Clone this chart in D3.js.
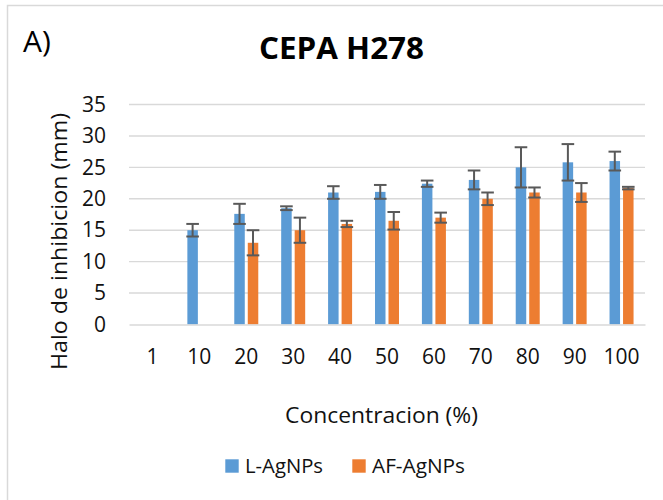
<!DOCTYPE html>
<html><head><meta charset="utf-8">
<script src="https://cdn.jsdelivr.net/npm/d3@7"></script>
<style>body{margin:0;background:#fff}svg{display:block}text{font-family:"Open Sans","Noto Sans",sans-serif}</style>
</head><body><svg id="c" width="663" height="500"></svg>
<script>
const categories = ["1","10","20","30","40","50","60","70","80","90","100"];
const lAgNPs   = [0, 15, 17.6, 18.5, 21, 21.1, 22.4, 23, 25, 25.8, 26];
const lErr     = [0, 1, 1.6, 0.3, 1, 1.1, 0.5, 1.5, 3.2, 2.9, 1.5];
const afAgNPs  = [0, 0, 13, 15, 16, 16.5, 17, 20, 21, 21, 21.7];
const afErr    = [0, 0, 2, 2, 0.5, 1.4, 0.8, 1, 0.8, 1.5, 0.2];
const yTicks   = [0,5,10,15,20,25,30,35];
const seriesNames = ["L-AgNPs","AF-AgNPs"];
const colors = ["#5B9BD5","#ED7D31"];

(function(){
const svg = d3.select("#c");
svg.append("rect").attr("x",7.5).attr("y",5.5).attr("width",670).attr("height",520)
  .attr("fill","none").attr("stroke","#d9d9d9").attr("stroke-width",1.5);

const pl=129, pr=645, pt=104.5, pb=324.5;
const x = d3.scaleBand().domain(categories).range([pl,pr]).paddingInner(0).paddingOuter(0);
const y = d3.scaleLinear().domain([0,35]).range([pb,pt]);

svg.append("g").selectAll("line").data(yTicks.filter(d=>d>0)).join("line")
  .attr("x1",pl).attr("x2",pr).attr("y1",d=>y(d)).attr("y2",d=>y(d))
  .attr("stroke","#d9d9d9").attr("stroke-width",1.4);

const yAxis = d3.axisLeft(y).tickValues(yTicks).tickSize(0).tickPadding(0);
const ga = svg.append("g").attr("transform",`translate(106,0)`).call(yAxis);
ga.select(".domain").remove();
ga.selectAll("text").attr("font-size",21).attr("fill","#111").attr("font-family","'Open Sans',sans-serif");

const bw = 10.5, gap = 3;
const series = [
  {vals:lAgNPs, err:lErr, off:-(bw+gap/2)},
  {vals:afAgNPs, err:afErr, off:gap/2}
];
series.forEach((s,si)=>{
  const g = svg.append("g");
  const data = categories.map((c,i)=>({c, v:s.vals[i], e:s.err[i]}));
  g.selectAll("rect").data(data.filter(d=>d.v>0)).join("rect")
    .attr("x",d=>x(d.c)+x.bandwidth()/2+s.off).attr("width",bw)
    .attr("y",d=>y(d.v)).attr("height",d=>pb-y(d.v))
    .attr("fill",colors[si]);
  const eb = g.selectAll("g.err").data(data.filter(d=>d.e>0)).join("g");
  const cx = d=>x(d.c)+x.bandwidth()/2+s.off+bw/2;
  eb.append("line").attr("x1",cx).attr("x2",cx).attr("y1",d=>y(d.v+d.e)).attr("y2",d=>y(d.v-d.e))
    .attr("stroke","#595959").attr("stroke-width",2);
  eb.append("line").attr("x1",d=>cx(d)-6.3).attr("x2",d=>cx(d)+6.3).attr("y1",d=>y(d.v+d.e)).attr("y2",d=>y(d.v+d.e))
    .attr("stroke","#595959").attr("stroke-width",2);
  eb.append("line").attr("x1",d=>cx(d)-6.3).attr("x2",d=>cx(d)+6.3).attr("y1",d=>y(d.v-d.e)).attr("y2",d=>y(d.v-d.e))
    .attr("stroke","#595959").attr("stroke-width",2);
});

const xAxis = d3.axisBottom(x).tickSize(0).tickPadding(0);
const gx = svg.append("g").attr("transform",`translate(0,${pb})`).call(xAxis);
gx.select(".domain").attr("stroke","#d9d9d9").attr("stroke-width",1.5);
gx.selectAll("text").attr("font-size",21).attr("fill","#111").attr("dy",null).attr("y",39.5)
  .attr("font-family","'Open Sans',sans-serif");

svg.append("text").attr("x",23).attr("y",51.5).attr("font-size",30).attr("fill","#000").text("A)");
svg.append("text").attr("x",341.5).attr("y",59.3).attr("text-anchor","middle").attr("font-size",29.5)
  .attr("font-weight","bold").attr("fill","#000")
  .attr("textLength",165).attr("lengthAdjust","spacingAndGlyphs").text("CEPA H278");
svg.append("text").attr("transform","translate(67,241.5) rotate(-90)").attr("text-anchor","middle")
  .attr("font-size",21.5).attr("fill","#111")
  .attr("textLength",257).attr("lengthAdjust","spacingAndGlyphs").text("Halo de inhibicion (mm)");
svg.append("text").attr("x",381.5).attr("y",423).attr("text-anchor","middle")
  .attr("font-size",21).attr("fill","#111")
  .attr("textLength",193).attr("lengthAdjust","spacingAndGlyphs").text("Concentracion (%)");

const leg = svg.append("g");
const lx = [225.3, 352.3];
const lw = [78, 93];
seriesNames.forEach((n,i)=>{
  leg.append("rect").attr("x",lx[i]).attr("y",459.3).attr("width",13.4).attr("height",13.4).attr("fill",colors[i]);
  leg.append("text").attr("x",lx[i]+19.7).attr("y",473.3).attr("font-size",19.5).attr("fill","#111")
    .attr("textLength",lw[i]).attr("lengthAdjust","spacingAndGlyphs").text(n);
});
})();
</script></body></html>
